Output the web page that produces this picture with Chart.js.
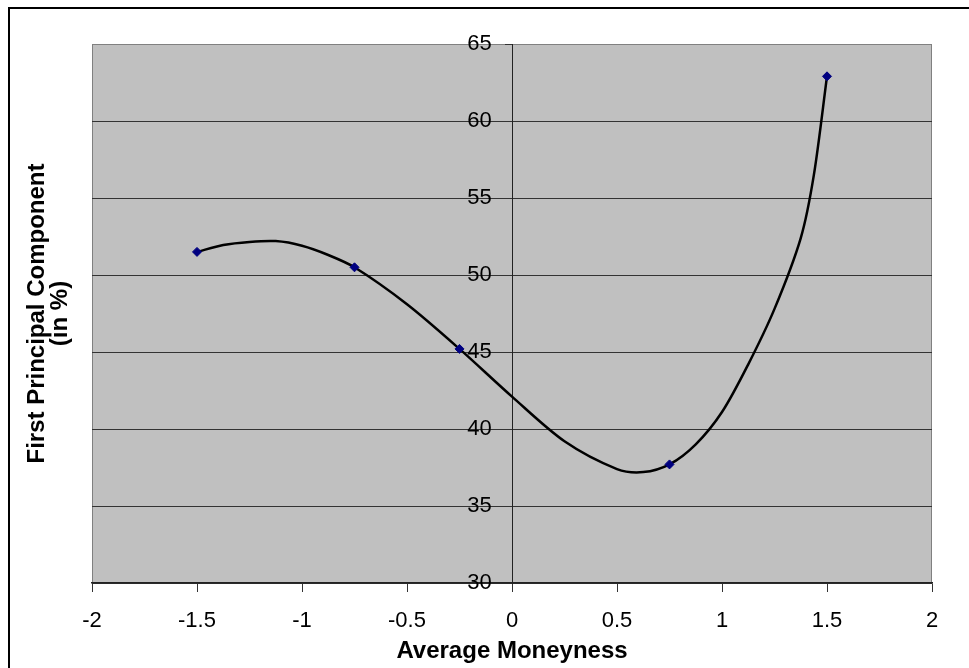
<!DOCTYPE html>
<html>
<head>
<meta charset="utf-8">
<title>First Principal Component</title>
<script src="https://cdn.jsdelivr.net/npm/chart.js@4/dist/chart.umd.min.js"></script>
<style>
  html, body { margin: 0; padding: 0; background: #fff; }
  canvas { display: block; }
</style>
</head>
<body>
<canvas id="pcChart" width="969" height="668"></canvas>
<script>
// Observed moneyness buckets and first-component share (in %)
var moneyness = [-1.5, -0.75, -0.25, 0.75, 1.5];
var firstComponent = [51.5, 50.5, 45.2, 37.7, 62.9];

// Fitted curve, read along its length
var curveX = [-1.5, -1.375, -1.25, -1.125, -1.0, -0.875, -0.75, -0.5, -0.25, 0, 0.25, 0.5, 0.625, 0.75, 0.875, 1.0, 1.125, 1.25, 1.375, 1.4375, 1.5];
var curveY = [51.5, 51.95, 52.15, 52.2, 51.9, 51.3, 50.5, 48.1, 45.2, 42.1, 39.2, 37.4, 37.2, 37.7, 39.0, 41.1, 44.2, 47.8, 52.4, 56.5, 62.9];

var xRange = [-2, 2];
var yRange = [30, 65];

var FONT = '"Liberation Sans", Arial, sans-serif';

function toPoints(xs, ys) {
    return xs.map(function(x, i) {
        return {x: x, y: ys[i]};
    });
}

/**
 * Grey plot area, outer frame and the two-line y title.
 */
var chartDecor = {
    id: 'chartDecor',
    beforeDraw: function(chart) {
        var ctx = chart.ctx;
        var area = chart.chartArea;
        ctx.save();
        ctx.fillStyle = '#fff';
        ctx.fillRect(0, 0, chart.width, chart.height);

        // Outer frame, runs off the right and bottom edges
        ctx.strokeStyle = '#000';
        ctx.lineWidth = 2;
        ctx.strokeRect(9, 8, chart.width + 10, chart.height + 10);

        ctx.fillStyle = '#c0c0c0';
        ctx.fillRect(area.left, area.top, area.right - area.left, area.bottom - area.top);
        ctx.strokeStyle = '#808080';
        ctx.lineWidth = 1;
        ctx.strokeRect(area.left + 0.5, area.top + 0.5, area.right - area.left - 1, area.bottom - area.top);
        ctx.restore();
    },
    afterDraw: function(chart) {
        var ctx = chart.ctx;
        var area = chart.chartArea;
        var midY = (area.top + area.bottom) / 2;
        ctx.save();
        ctx.translate(0, midY);
        ctx.rotate(-Math.PI / 2);
        ctx.fillStyle = '#000';
        ctx.font = 'bold 24px ' + FONT;
        ctx.textAlign = 'center';
        ctx.textBaseline = 'middle';
        ctx.fillText('First Principal Component', 0, 37);
        ctx.fillText('(in %)', 0, 60);
        ctx.restore();
    }
};

new Chart(document.getElementById('pcChart'), {
    type: 'scatter',
    data: {
        datasets: [{
            label: 'Fit',
            data: toPoints(curveX, curveY),
            showLine: true,
            borderColor: '#000',
            borderWidth: 2.5,
            pointRadius: 0,
            tension: 0.3,
            order: 2
        }, {
            label: 'First Principal Component',
            data: toPoints(moneyness, firstComponent),
            showLine: false,
            pointStyle: 'rectRot',
            pointRadius: 4.5,
            pointBorderWidth: 1,
            pointBackgroundColor: '#000080',
            pointBorderColor: '#000080',
            order: 1
        }]
    },
    options: {
        responsive: false,
        animation: false,
        layout: {
            padding: {left: 92, right: 37, top: 44, bottom: 2.6}
        },
        plugins: {
            legend: {display: false},
            tooltip: {enabled: false}
        },
        scales: {
            x: {
                type: 'linear',
                min: xRange[0],
                max: xRange[1],
                ticks: {
                    stepSize: 0.5,
                    padding: 16,
                    maxRotation: 0,
                    color: '#000',
                    font: {family: FONT, size: 22},
                    callback: function(v) { return String(v); }
                },
                grid: {
                    drawOnChartArea: false,
                    drawTicks: true,
                    tickLength: 9,
                    tickColor: '#333'
                },
                border: {color: '#222', width: 1.5},
                title: {
                    display: true,
                    text: 'Average Moneyness',
                    color: '#000',
                    padding: {top: -13.8, bottom: 0},
                    font: {family: FONT, size: 24, weight: 'bold'}
                }
            },
            y: {
                type: 'linear',
                position: {x: 0},
                min: yRange[0],
                max: yRange[1],
                ticks: {
                    stepSize: 5,
                    color: '#000',
                    font: {family: FONT, size: 22},
                    // labels sit right-aligned on the crossing axis, so pad them off it
                    callback: function(v) { return v + '   \u200A'; }
                },
                grid: {
                    color: function(c) {
                        return c.tick && c.tick.value === yRange[1] ? '#808080' : '#333';
                    },
                    lineWidth: 1,
                    tickLength: 7,
                    tickColor: '#333'
                },
                border: {color: '#222', width: 1}
            }
        }
    },
    plugins: [chartDecor]
});
</script>
</body>
</html>
